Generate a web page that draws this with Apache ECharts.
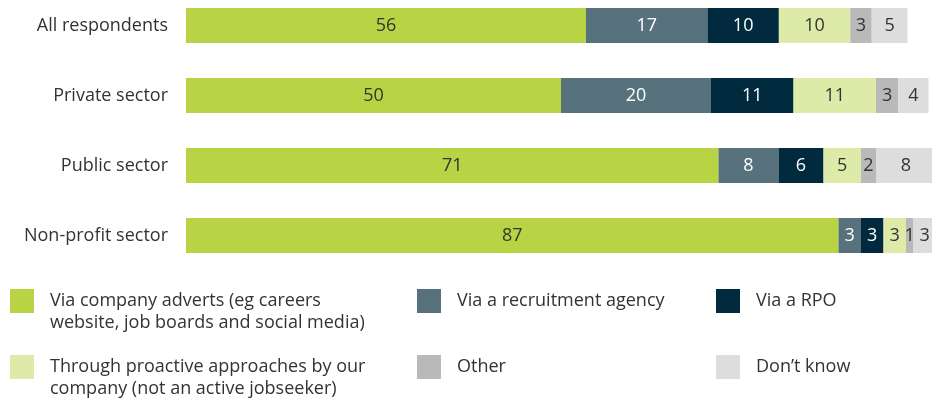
<!DOCTYPE html>
<html>
<head>
<meta charset="utf-8">
<script src="https://cdn.jsdelivr.net/npm/echarts@6/dist/echarts.min.js"></script>
<style>
  html, body { margin: 0; padding: 0; background: #fff; }
  #chart { width: 932px; height: 401px; }
</style>
</head>
<body>
<div id="chart"></div>
<script>
const categories = ['All respondents', 'Private sector', 'Public sector', 'Non-profit sector'];
const adverts = [56, 50, 71, 87];
const agency = [17, 20, 8, 3];
const rpo = [10, 11, 6, 3];
const proactive = [10, 11, 5, 3];
const other = [3, 3, 2, 1];
const dontKnow = [5, 4, 8, 3];

const names = [
  'Via company adverts (eg careers\nwebsite, job boards and social media)',
  'Via a recruitment agency',
  'Via a RPO',
  'Through proactive approaches by our\ncompany (not an active jobseeker)',
  'Other',
  'Don\u2019t know'
];
const values = [adverts, agency, rpo, proactive, other, dontKnow];
const colors = ['#b8d444', '#57717d', '#012a3e', '#deeba8', '#b9b9b9', '#dddddd'];
const labelColors = ['#333', '#fff', '#fff', '#333', '#333', '#333'];

const font = 'Open Sans';
const chart = echarts.init(document.getElementById('chart'));

// first row is drawn on its own (wider) scale, like the original
const series = [];
values.forEach((vals, i) => {
  const common = {
    name: names[i],
    type: 'bar',
    barWidth: 35,
    barGap: '-100%',
    itemStyle: { color: colors[i] },
    label: {
      show: true,
      position: 'inside',
      color: labelColors[i],
      fontSize: 18,
      fontFamily: font
    },
    emphasis: { disabled: true }
  };
  series.push(Object.assign({}, common, {
    stack: 'first',
    xAxisIndex: 1,
    data: vals.map((v, j) => (j === 0 ? v : '-'))
  }));
  series.push(Object.assign({}, common, {
    stack: 'rest',
    xAxisIndex: 0,
    data: vals.map((v, j) => (j === 0 ? '-' : v))
  }));
});

const legendPos = [
  { left: 10, top: 268, two: true },
  { left: 417, top: 289 },
  { left: 716, top: 289 },
  { left: 10, top: 334, two: true },
  { left: 417, top: 355 },
  { left: 716, top: 355 }
];
const legends = names.map((n, i) => ({
  data: [n],
  left: legendPos[i].left,
  top: legendPos[i].top,
  padding: 0,
  icon: 'rect',
  itemWidth: 24,
  itemHeight: 24,
  selectedMode: false,
  // empty first line keeps the first text line level with the square
  formatter: legendPos[i].two ? (name) => ' \n' + name : '{name}',
  textStyle: {
    fontSize: 18,
    fontFamily: font,
    color: '#333',
    lineHeight: 22,
    padding: [0, 0, 0, 11]
  }
}));

chart.setOption({
  animation: false,
  grid: { left: 186, top: -9.5, width: 750, height: 280, outerBoundsMode: 'none', containLabel: false },
  xAxis: [
    { type: 'value', min: 0, max: 100, show: false },
    { type: 'value', min: 0, max: 105, show: false }
  ],
  yAxis: {
    type: 'category',
    inverse: true,
    data: categories,
    axisLine: { show: false },
    axisTick: { show: false },
    splitLine: { show: false },
    axisLabel: { margin: 18, fontSize: 18, fontFamily: font, color: '#333' }
  },
  legend: legends,
  series: series
});
</script>
</body>
</html>
